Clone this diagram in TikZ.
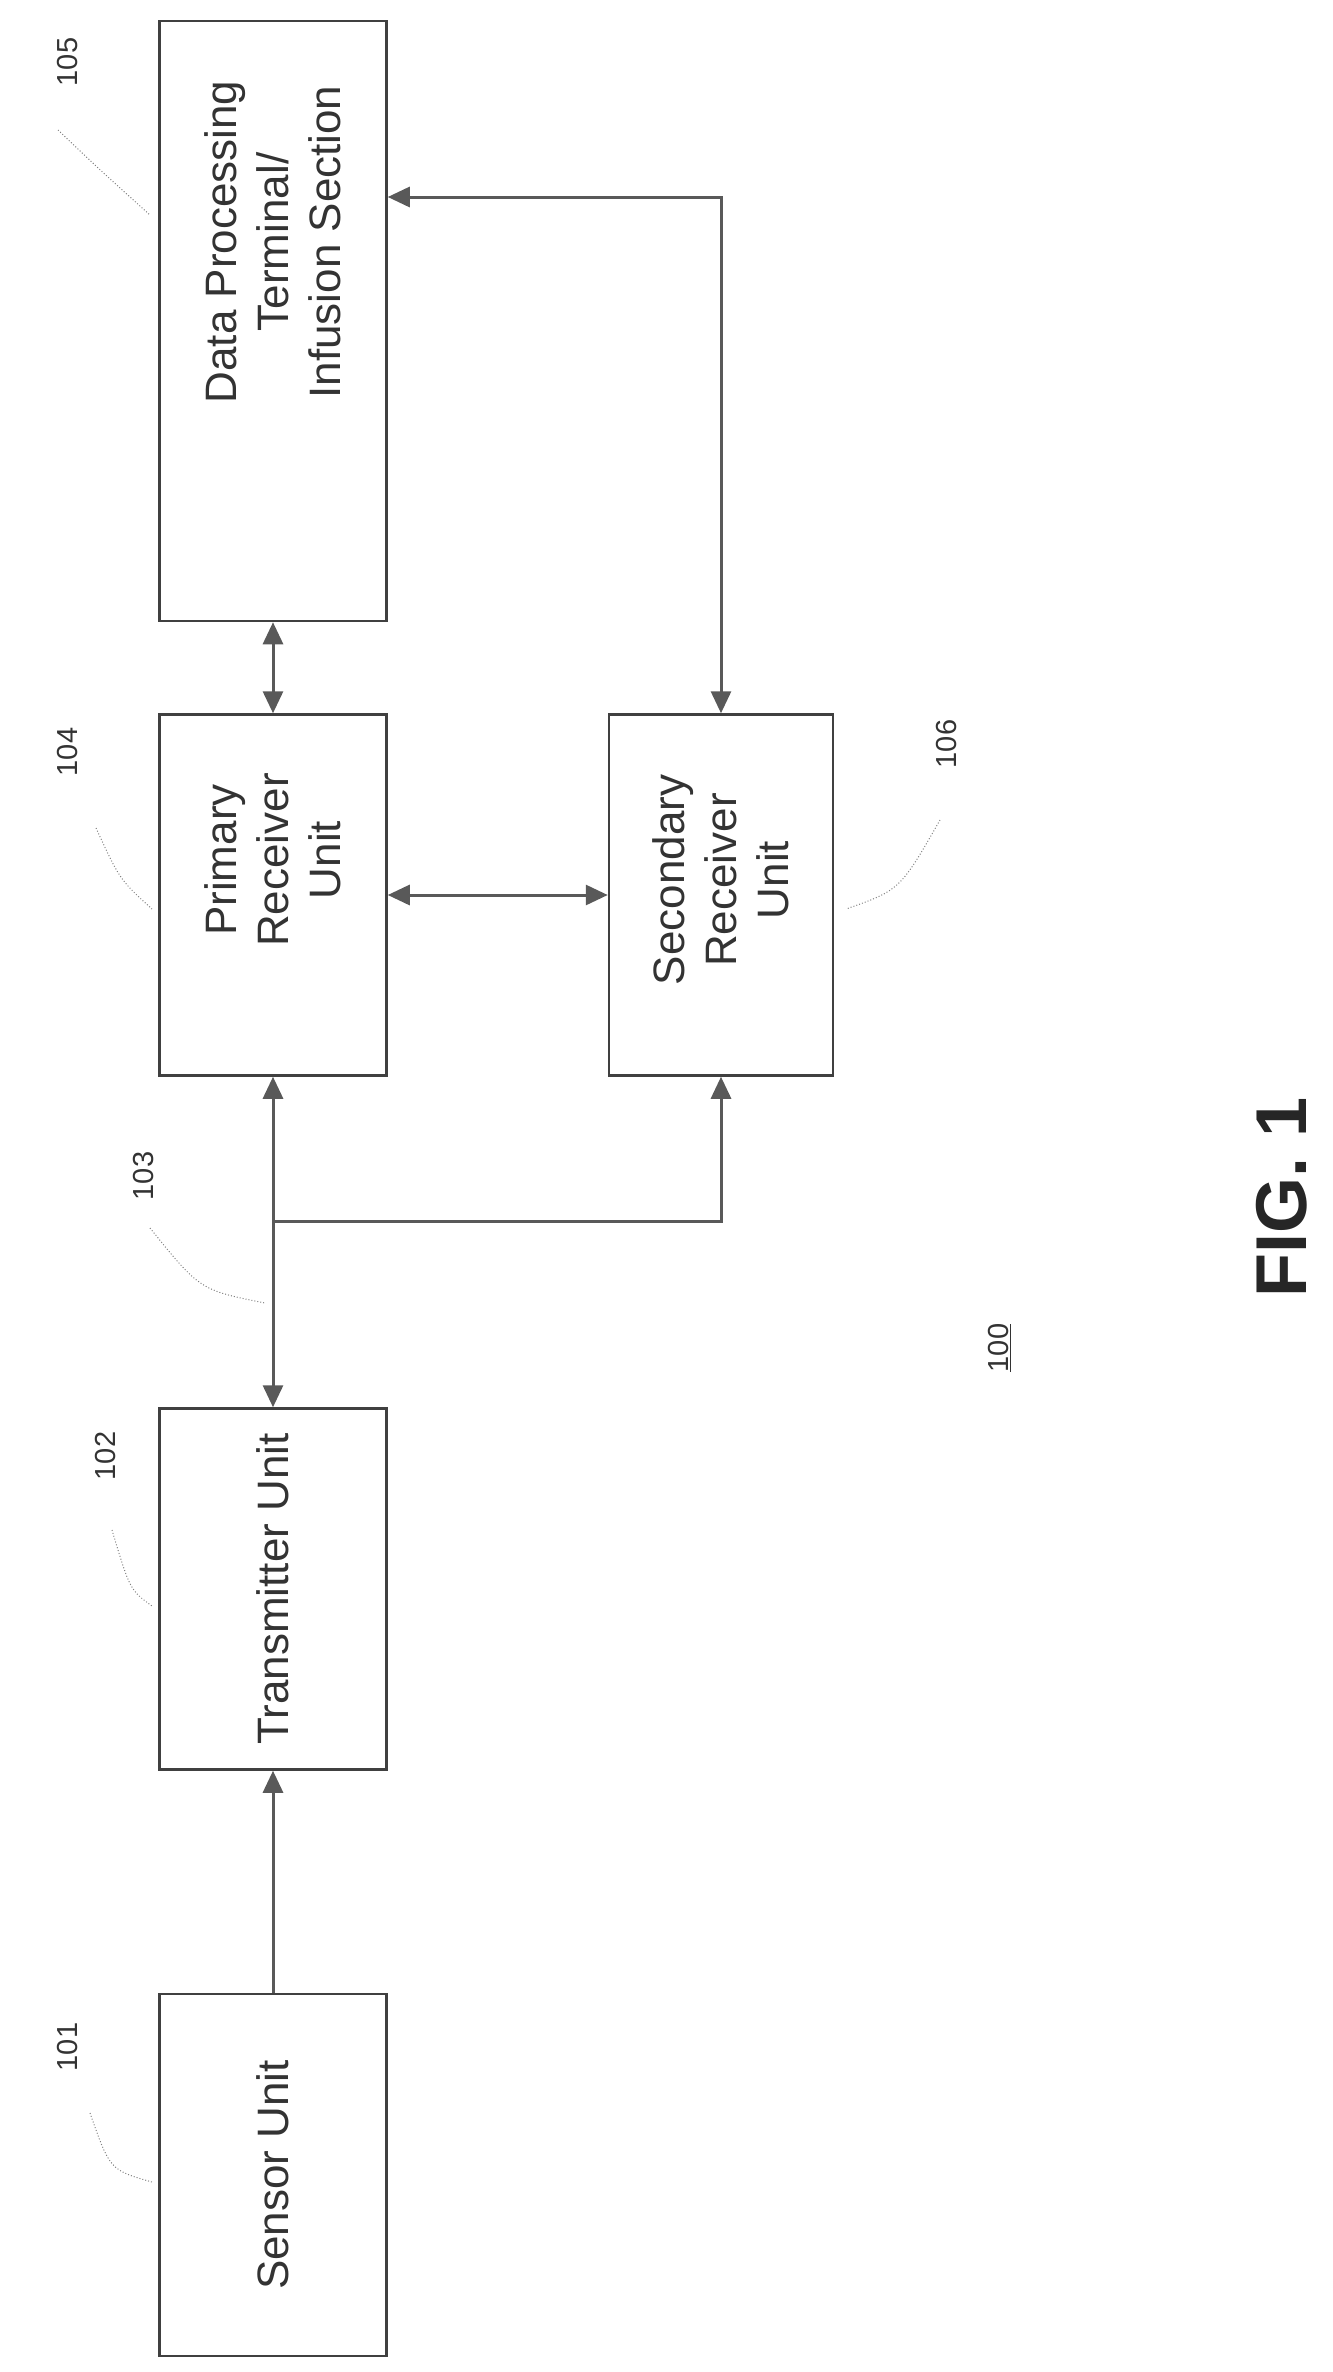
\documentclass[tikz,border=0pt]{standalone}
\usepackage{fontspec}
\setmainfont{Liberation Sans}
\usetikzlibrary{arrows.meta}
\begin{document}
\begin{tikzpicture}[x=1pt,y=-1pt,
  box/.style={draw=black!75,line width=2.5pt,minimum width=227pt,inner sep=0pt},
  lbl/.style={rotate=90,font=\fontsize{44}{52}\selectfont,text=black!80,align=center},
  conn/.style={draw=black!65,line width=3pt,{Triangle[length=22pt,width=20pt]}-{Triangle[length=22pt,width=20pt]}},
  conn1/.style={draw=black!65,line width=3pt,-{Triangle[length=22pt,width=20pt]}},
  lead/.style={draw=black!50,line width=1pt,dotted},
  num/.style={rotate=90,font=\fontsize{29}{34}\selectfont,text=black!80}]
\useasboundingbox (0,0) rectangle (1333,2372);
\node[box,minimum height=600pt] (b105) at (273,321) {};
\node[lbl] (t105) at (273,242) {Data Processing\\Terminal/\\Infusion Section};
\node[box,minimum height=361pt] (b104) at (273,895) {};
\node[lbl] (t104) at (273,860) {Primary\\Receiver\\Unit};
\node[box,minimum width=224pt,minimum height=361pt] (b106) at (721,895) {};
\node[lbl] (t106) at (721,880) {Secondary\\Receiver\\Unit};
\node[box,minimum height=361pt] (b102) at (273,1589) {};
\node[lbl] (t102) at (b102) {Transmitter Unit};
\node[box,minimum height=362pt] (b101) at (273,2175) {};
\node[lbl] (t101) at (b101) {Sensor Unit};
\coordinate (c1) at (721,197);
\coordinate (br) at (273,1221);
\coordinate (c2) at (721,1221);
\draw[conn] (b104.north) -- (b105.south);
\draw[conn] (b105.east |- c1) -- (c1) -- (b106.north);
\draw[conn] (b104.east) -- (b106.west);
\draw[conn] (b102.north) -- (b104.south);
\draw[conn1] (br) -- (c2) -- (b106.south);
\draw[conn1] (b101.north) -- (b102.south);
\node[num] (n105) at (68,62) {105};
\node[num] (n104) at (68,752) {104};
\node[num] (n106) at (947,744) {106};
\node[num] (n103) at (144,1176) {103};
\node[num] (n102) at (106,1456) {102};
\node[num] (n101) at (68,2047) {101};
\node[num] (n100) at (1000,1348) {\underline{100}};
\node[rotate=90,font=\bfseries\fontsize{72}{80}\selectfont,text=black!85] (fig) at (1282,1197) {FIG. 1};
\coordinate (e105) at (150,215); \coordinate (e104) at (152,909);
\coordinate (e106) at (846,909); \coordinate (e103) at (265,1303);
\coordinate (e102) at (152,1606); \coordinate (e101) at (152,2182);
\draw[lead] (58,130) .. controls (100,170) .. (e105);
\draw[lead] (96,828) .. controls (120,880) .. (e104);
\draw[lead] (940,820) .. controls (900,890) .. (e106);
\draw[lead] (150,1228) .. controls (200,1290) .. (e103);
\draw[lead] (112,1530) .. controls (130,1590) .. (e102);
\draw[lead] (90,2113) .. controls (110,2170) .. (e101);
\end{tikzpicture}
\end{document}
